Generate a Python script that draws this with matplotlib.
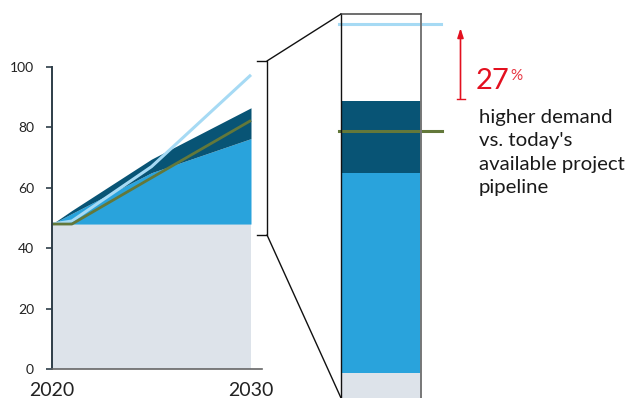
import matplotlib
matplotlib.use("Agg")
import matplotlib.pyplot as plt
from matplotlib.patches import ConnectionPatch

# ---- data ----
years = [2020, 2021, 2025, 2030]
base_level = [48, 48, 48, 48]
blue_top = [48, 51.5, 65, 76.3]
dark_top = [48, 52.5, 69.5, 86.5]
demand_line = [48, 49, 67, 97.4]
olive_line = [48, 48, 63.3, 82.3]
y_ticks = [0, 20, 40, 60, 80, 100]
x_ticks = [2020, 2030]
pct_label = "27"
note_text = "higher demand\nvs. today's\navailable project\npipeline"

# ---- style ----
C_GRAY = "#dde3ea"
C_BLUE = "#29a3dc"
C_DARK = "#085475"
C_LIGHT = "#a6daf4"
C_OLIVE = "#63783a"
C_RED = "#e3101f"
FONT = ["Lato", "DejaVu Sans"]
plt.rcParams["font.family"] = FONT

W, H = 644, 398
fig = plt.figure(figsize=(W / 100, H / 100), dpi=100)


def fx(x):
    return x / W


def fy(y):
    return 1 - y / H


# ---- left area chart ----
ax = fig.add_axes([fx(52), fy(369), 210 / W, 302 / H])
ax.fill_between(years, 0, base_level, color=C_GRAY, lw=0)
ax.fill_between(years, base_level, blue_top, color=C_BLUE, lw=0)
ax.fill_between(years, blue_top, dark_top, color=C_DARK, lw=0)
ax.plot(years, demand_line, color=C_LIGHT, lw=2.2, solid_capstyle="butt")
ax.plot(years, olive_line, color=C_OLIVE, lw=2.0, solid_capstyle="butt")
ax.set_xlim(2020, 2020 + 10 * 210 / 199)
ax.set_ylim(0, 100)
ax.set_yticks(y_ticks)
ax.set_xticks(x_ticks)
ax.tick_params(axis="y", length=4, width=1.2, color="#2e3d48", pad=9,
               labelsize=10, labelcolor="#222222")
ax.tick_params(axis="x", length=0, pad=9.5, labelsize=14, labelcolor="#222222")
for s in ["top", "right"]:
    ax.spines[s].set_visible(False)
ax.spines["left"].set_color("#2e3d48")
ax.spines["left"].set_linewidth(1.4)
ax.spines["bottom"].set_color("#666666")
ax.spines["bottom"].set_linewidth(1.2)

# ---- right zoomed bar ----
scale = 200 / (blue_top[-1] - base_level[-1])  # px per unit
lo = base_level[-1] - (398 - 373) / scale
hi = base_level[-1] + (373 - 14) / scale
ax2 = fig.add_axes([fx(341), 0, 80 / W, (398 - 14) / H])
ax2.set_xlim(0, 1)
ax2.set_ylim(lo, hi)
ax2.bar(0.5, base_level[-1], width=1, color=C_GRAY, lw=0)
ax2.bar(0.5, blue_top[-1] - base_level[-1], bottom=base_level[-1], width=1,
        color=C_BLUE, lw=0)
ax2.bar(0.5, dark_top[-1] - blue_top[-1], bottom=blue_top[-1], width=1,
        color=C_DARK, lw=0)
ax2.axhline(demand_line[-1], xmin=-0.025, xmax=1.25, color=C_LIGHT, lw=2.2,
            clip_on=False)
ax2.axhline(olive_line[-1], xmin=-0.025, xmax=1.26, color=C_OLIVE, lw=2.2,
            clip_on=False)
ax2.set_xticks([])
ax2.set_yticks([])
ax2.spines["bottom"].set_visible(False)
ax2.spines["left"].set_color("#111111")
ax2.spines["left"].set_linewidth(1.0)
ax2.spines["top"].set_color("#555555")
ax2.spines["top"].set_linewidth(1.2)
ax2.spines["right"].set_color("#777777")
ax2.spines["right"].set_linewidth(1.4)

# ---- bracket and zoom connectors ----
bx = 2020 + 10 * (267 - 52) / 199
bx0 = 2020 + 10 * (257 - 52) / 199
b_hi, b_lo = 102, 44.4
ax.plot([bx0, bx, bx, bx0], [b_hi, b_hi, b_lo, b_lo], color="#111111",
        lw=1.0, clip_on=False)
for yv, ya in [(b_hi, 1), (b_lo, 0)]:
    cp = ConnectionPatch(xyA=(bx, yv), coordsA=ax.transData,
                         xyB=(0, ya), coordsB=ax2.transAxes,
                         color="#111111", lw=1.0)
    fig.add_artist(cp)

# ---- red arrow and annotation ----
arr_x = (460.5 - 341) / 80
ax2.annotate("", xy=(arr_x, demand_line[-1] - 0.6),
             xytext=(arr_x, dark_top[-1] + 0.3),
             xycoords=ax2.get_yaxis_transform(),
             textcoords=ax2.get_yaxis_transform(),
             arrowprops=dict(arrowstyle="-|>,head_length=0.55,head_width=0.18",
                             color=C_RED, lw=1.2, shrinkA=0, shrinkB=0),
             annotation_clip=False)
ax2.plot([arr_x - 0.05, arr_x + 0.05], [dark_top[-1] + 0.3] * 2,
         transform=ax2.get_yaxis_transform(), color=C_RED, lw=1.0,
         clip_on=False)

fig.text(fx(476), fy(89), pct_label, color=C_RED, fontsize=21,
         va="baseline", ha="left")
fig.text(fx(510.5), fy(80), "%", color=C_RED, fontsize=11,
         va="baseline", ha="left", alpha=0.85)
fig.text(fx(479), fy(193.3), note_text, color="#1a1a1a", fontsize=14.7,
         va="baseline", ha="left", linespacing=1.46)

fig.savefig("out.png", dpi=100)
